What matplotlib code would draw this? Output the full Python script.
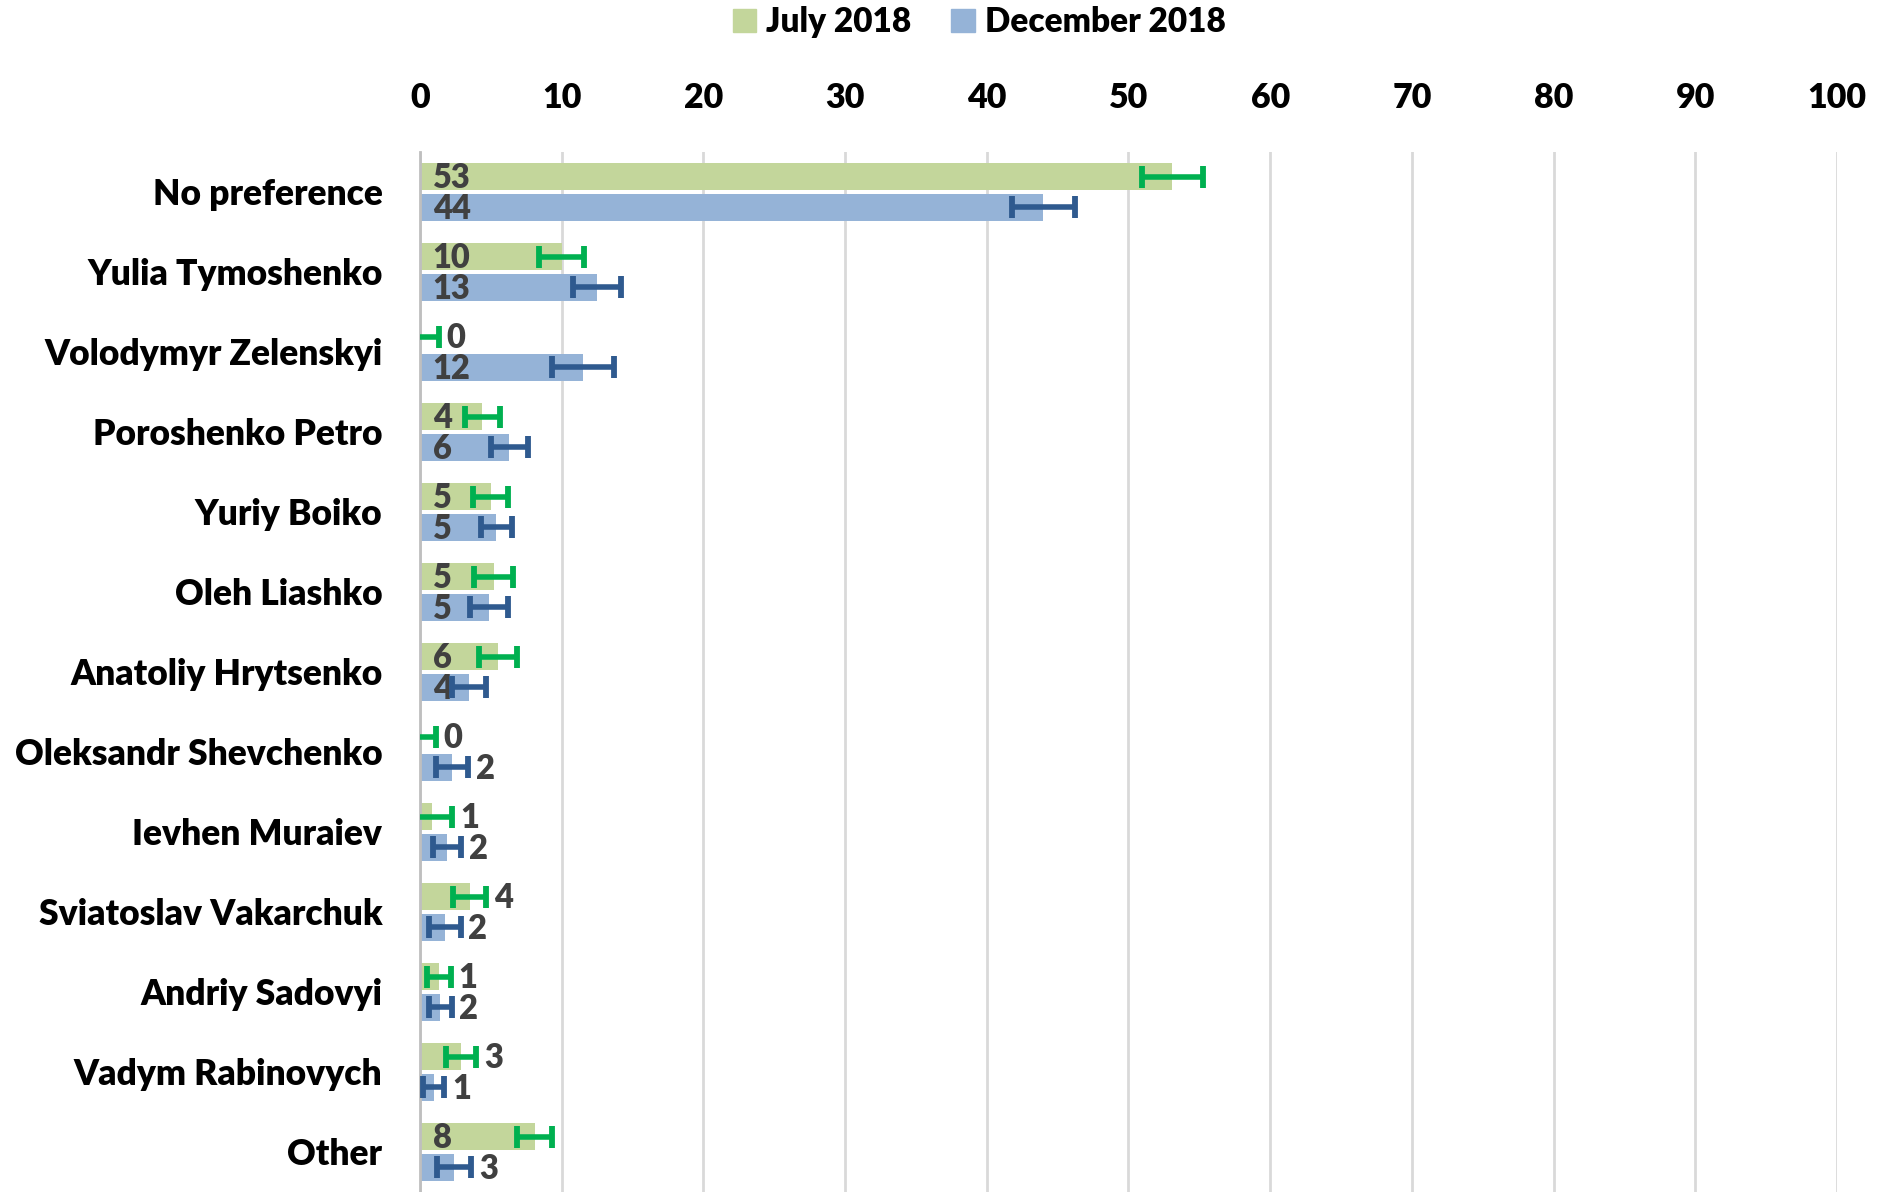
import numpy as np
import matplotlib
matplotlib.use("Agg")
import matplotlib.pyplot as plt
from matplotlib.patches import Patch

plt.rcParams['font.family'] = ['Lato', 'DejaVu Sans']
plt.rcParams['font.weight'] = 'bold'

categories = ["No preference", "Yulia Tymoshenko", "Volodymyr Zelenskyi",
              "Poroshenko Petro", "Yuriy Boiko", "Oleh Liashko",
              "Anatoliy Hrytsenko", "Oleksandr Shevchenko", "Ievhen Muraiev",
              "Sviatoslav Vakarchuk", "Andriy Sadovyi", "Vadym Rabinovych", "Other"]

# July 2018 (bar length, error half-width, printed label)
july = [53.1, 10.0, 0.0, 4.4, 5.0, 5.2, 5.5, 0.0, 0.85, 3.5, 1.35, 2.9, 8.1]
july_err = [2.15, 1.6, 1.35, 1.25, 1.25, 1.35, 1.35, 1.13, 1.42, 1.18, 0.84, 1.06, 1.23]
july_lab = [53, 10, 0, 4, 5, 5, 6, 0, 1, 4, 1, 3, 8]

# December 2018
dec = [44.0, 12.5, 11.5, 6.3, 5.4, 4.85, 3.45, 2.27, 1.93, 1.75, 1.45, 0.97, 2.4]
dec_err = [2.2, 1.72, 2.17, 1.3, 1.12, 1.34, 1.18, 1.12, 0.99, 1.12, 0.78, 0.76, 1.22]
dec_lab = [44, 13, 12, 6, 5, 5, 4, 2, 2, 2, 2, 1, 3]

# which labels sit inside the bar base (others go after the error bar)
july_in = [1, 1, 0, 1, 1, 1, 1, 0, 0, 0, 0, 0, 1]
dec_in = [1, 1, 1, 1, 1, 1, 1, 0, 0, 0, 0, 0, 0]

green_bar = '#C3D69B'
blue_bar = '#95B3D7'
green_err = '#00B050'
blue_err = '#2F5A8F'
lab_col = '#404040'

fig = plt.figure(figsize=(18.83, 11.92), dpi=100)
ax = fig.add_axes([0.223, 0.0, 0.7526, 0.8725])

y = np.arange(len(categories))
h = 0.335
off = 0.19

ax.barh(y - off, july, height=h, color=green_bar, zorder=2)
ax.barh(y + off, dec, height=h, color=blue_bar, zorder=2)
ax.errorbar(july, y - off, xerr=july_err, fmt='none', ecolor=green_err,
            elinewidth=4, capsize=8, capthick=4.2, zorder=4)
ax.errorbar(dec, y + off, xerr=dec_err, fmt='none', ecolor=blue_err,
            elinewidth=4, capsize=8, capthick=4.2, zorder=4)

for vals, errs, labs, ins, dy in [(july, july_err, july_lab, july_in, -off),
                                  (dec, dec_err, dec_lab, dec_in, off)]:
    for i in range(len(vals)):
        if ins[i]:
            x = 0.9
        else:
            x = vals[i] + errs[i] + 0.55
        ax.text(x, y[i] + dy + 0.02, str(labs[i]), ha='left', va='center',
                fontsize=23.5, fontweight='heavy', color=lab_col, zorder=3)

ax.set_xlim(0, 100)
ax.set_ylim(len(categories) - 0.5, -0.5)
ax.set_xticks(np.arange(0, 101, 10))
ax.set_yticks(y)
ax.set_yticklabels(categories)
ax.xaxis.tick_top()
ax.tick_params(axis='x', length=0, pad=27, labelsize=24.5)
ax.tick_params(axis='y', length=0, pad=27, labelsize=25.5)
for lab in ax.get_xticklabels() + ax.get_yticklabels():
    lab.set_fontweight('heavy')
ax.grid(axis='x', color='#D9D9D9', linewidth=2)
ax.set_axisbelow(True)
for s in ['top', 'right', 'bottom']:
    ax.spines[s].set_visible(False)
ax.spines['left'].set_color('#BFBFBF')
ax.spines['left'].set_linewidth(2)

handles = [Patch(color=green_bar, label='July 2018'),
           Patch(color=blue_bar, label='December 2018')]
leg = fig.legend(handles=handles, loc='upper center', bbox_to_anchor=(0.52, 1.02),
                 ncol=2, frameon=False, fontsize=24, handlelength=0.7, handleheight=0.7,
                 handletextpad=0.3, columnspacing=1.2)
for t in leg.get_texts():
    t.set_fontweight('heavy')

fig.savefig('out.png', dpi=100)
